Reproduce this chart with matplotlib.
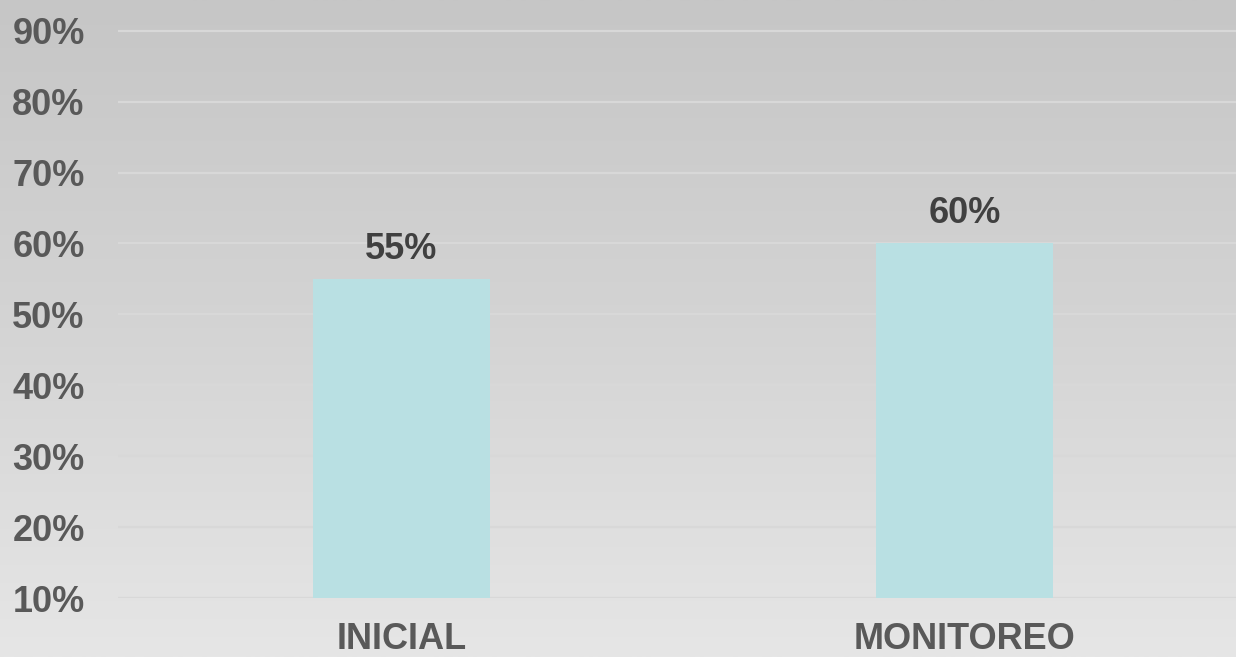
import numpy as np
import matplotlib
matplotlib.use("Agg")
import matplotlib.pyplot as plt
from matplotlib.colors import LinearSegmentedColormap

categories = ["INICIAL", "MONITOREO"]
values = [0.55, 0.60]
value_labels = ["55%", "60%"]
yticks = [0.1, 0.2, 0.3, 0.4, 0.5, 0.6, 0.7, 0.8, 0.9]
ytick_labels = ["10%", "20%", "30%", "40%", "50%", "60%", "70%", "80%", "90%"]

plt.rcParams['font.family'] = ['Liberation Sans', 'DejaVu Sans']

W, H = 1236, 657
fig = plt.figure(figsize=(W / 100, H / 100), dpi=100)

# background gradient
bg = fig.add_axes([0, 0, 1, 1], zorder=0)
grad = np.linspace(0, 1, 256).reshape(-1, 1)
cmap = LinearSegmentedColormap.from_list("bg", ["#c6c6c6", "#d4d4d4", "#e6e6e6"])
bg.imshow(grad, aspect="auto", cmap=cmap, extent=[0, 1, 0, 1], origin="upper")
bg.set_axis_off()

left = 118 / W
bottom = 1 - 598 / H
ax = fig.add_axes([left, bottom, 1 - left, 598 / H], zorder=1)
ax.patch.set_alpha(0)

x = np.arange(len(categories))
ax.bar(x, values, width=0.314, color="#b9e0e3", zorder=3)

for xi, v, lab in zip(x, values, value_labels):
    ax.annotate(lab, (xi, v), xytext=(0, 14.4), textcoords="offset points",
                ha="center", va="baseline", fontsize=26, fontweight="bold",
                color="#404040")

ax.set_ylim(0.1, 0.1 + 598 / 70.9 * 0.1)
ax.set_xlim(-(401.5 - 118) / 563, 1 + (1236 - 964.5) / 563)
ax.set_yticks(yticks)
ax.set_yticklabels(ytick_labels)
ax.set_xticks(x)
ax.set_xticklabels(categories)
ax.tick_params(axis="y", length=0, pad=24, labelsize=26, labelcolor="#595959")
ax.tick_params(axis="x", length=0, pad=17.5, labelsize=26, labelcolor="#595959")
for t in ax.get_yticklabels() + ax.get_xticklabels():
    t.set_fontweight("bold")
ax.grid(axis="y", color="#d8d8d8", linewidth=1.6, zorder=0)
for s in ax.spines.values():
    s.set_visible(False)

fig.savefig("out.png", dpi=100)
